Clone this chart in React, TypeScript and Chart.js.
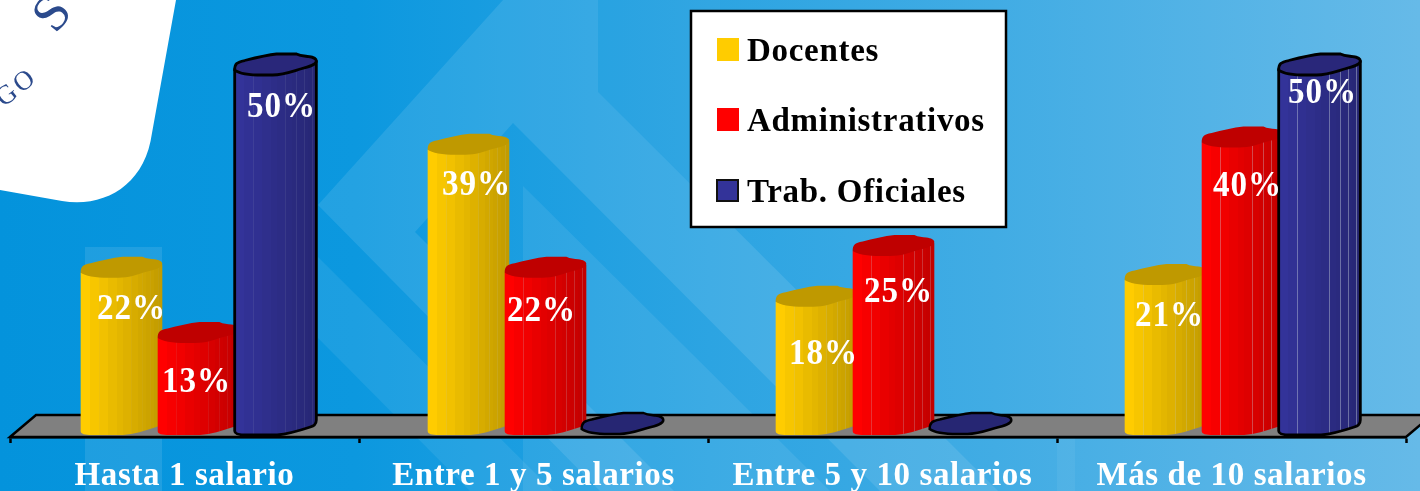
import { useEffect, useRef } from "react";
import { Chart, registerables } from "chart.js";

Chart.register(...registerables);

// ---- data ----
const categories = ["Hasta 1 salario", "Entre 1 y 5 salarios", "Entre 5 y 10 salarios", "Más de 10 salarios"];
const docentes = [22, 39, 18, 21];
const administrativos = [13, 22, 25, 40];
const trabOficiales = [50, 0, 0, 50];
const seriesNames = ["Docentes", "Administrativos", "Trab. Oficiales"];

// ---- style ----
const SERIF = '"Liberation Serif", "Times New Roman", serif';
const lightColors = ["#ffcc00", "#ff0000", "#333399"];
const darkColors = ["#bf9900", "#bf0000", "#262673"];
const capColors = ["#bf9900", "#bf0000", "#29277a"];
const outlined = [false, false, true];
const facetStops = [0, 0.12, 0.22, 0.34, 0.44, 0.52, 0.62, 0.7, 0.75, 0.8, 0.85, 0.9, 0.95, 1];
const facetLines = [0.22, 0.62, 0.75, 0.85, 0.95];
const facetAlpha = [0.08, 0.2, 0.24, 0.34];
const seriesLineFactor = [0.6, 1, 1.2];
const labelDx = [[10, 8, 7, 4], [-2, -4, 5, 5], [6, 0, 0, 3]];
const labelDy = [[34, 33, 50, 34], [42, 36, 39, 41], [35, 0, 0, 21]];
const categoryShift = [14, 12, 11, 11];
const DEPTH_X = 26;
const DEPTH_Y = 22;

function hexRgb(h: string) {
  return [1, 3, 5].map((i) => parseInt(h.slice(i, i + 2), 16));
}
function mix(a: string, b: string, t: number) {
  const A = hexRgb(a);
  const B = hexRgb(b);
  return `rgb(${A.map((v, i) => Math.round(v + (B[i] - v) * t)).join(",")})`;
}

function capPath(ctx: CanvasRenderingContext2D, L: number, y: number, w: number) {
  const k = w / 82;
  const X = (v: number) => L + v * k;
  ctx.beginPath();
  ctx.moveTo(X(0), y);
  ctx.bezierCurveTo(X(0), y - 6, X(2), y - 8, X(10), y - 9.5);
  ctx.bezierCurveTo(X(20), y - 12, X(32), y - 15, X(42), y - 16);
  ctx.lineTo(X(62), y - 16);
  ctx.bezierCurveTo(X(66), y - 14, X(70), y - 14, X(74), y - 13.5);
  ctx.bezierCurveTo(X(79), y - 13, X(82), y - 11, X(82), y - 9);
  ctx.bezierCurveTo(X(82), y - 5, X(74), y - 3, X(66), y - 1);
  ctx.bezierCurveTo(X(56), y + 2, X(48), y + 5, X(38), y + 5);
  ctx.lineTo(X(28), y + 5);
  ctx.bezierCurveTo(X(15), y + 5, X(4), y + 3, X(0), y);
  ctx.closePath();
}

function bodyPath(ctx: CanvasRenderingContext2D, L: number, y: number, base: number, w: number) {
  const R = L + w;
  ctx.beginPath();
  ctx.moveTo(L, y);
  ctx.lineTo(L + w * 0.5, y + 2);
  ctx.lineTo(R, y - 8);
  ctx.lineTo(R, base - 12);
  ctx.bezierCurveTo(R, base - 7, R - 3, base - 6, R - 6, base - 5);
  ctx.bezierCurveTo(R - 18, base - 1, R - 28, base + 2, L + w * 0.52, base + 3);
  ctx.lineTo(L + w * 0.14, base + 3);
  ctx.bezierCurveTo(L + 4, base + 3, L, base + 2, L, base - 1);
  ctx.closePath();
}

const scenery = {
  id: "scenery",
  beforeDraw(chart: any) {
    const { ctx, chartArea, width, height } = chart;
    ctx.save();
    const g = ctx.createLinearGradient(0, 0, width, 0);
    g.addColorStop(0, "#0493dc");
    g.addColorStop(0.25, "#0c98df");
    g.addColorStop(0.5, "#2ca4e2");
    g.addColorStop(0.7, "#41ace4");
    g.addColorStop(1, "#66bae8");
    ctx.fillStyle = g;
    ctx.fillRect(0, 0, width, height);

    const poly = (pts: number[][], a: number) => {
      ctx.fillStyle = `rgba(255,255,255,${a})`;
      ctx.beginPath();
      pts.forEach((p, i) => (i ? ctx.lineTo(p[0], p[1]) : ctx.moveTo(p[0], p[1])));
      ctx.closePath();
      ctx.fill();
    };
    // chevron watermark
    poly([[318, 205], [503, 0], [598, 0], [598, 92], [998, 491], [880, 491], [513, 123], [415, 232], [674, 491], [600, 491]], 0.1);
    poly([[523, 186], [830, 491], [523, 491]], 0.08);
    poly([[318, 257], [553, 491], [470, 491], [318, 338]], 0.07);
    poly([[85, 247], [162, 247], [162, 491], [85, 491]], 0.1);
    poly([[598, 0], [720, 0], [720, 214], [598, 92]], 0.03);
    poly([[1057, 437], [1075, 437], [1075, 491], [1057, 491]], 0.05);

    // white card in the corner
    ctx.fillStyle = "#ffffff";
    ctx.beginPath();
    ctx.moveTo(0, 0);
    ctx.lineTo(176, 0);
    ctx.lineTo(152, 133);
    ctx.bezierCurveTo(145, 185, 105, 208, 62, 201);
    ctx.lineTo(0, 190);
    ctx.closePath();
    ctx.fill();
    ctx.fillStyle = "#2b4a8c";
    ctx.textAlign = "center";
    ctx.textBaseline = "middle";
    ctx.save();
    ctx.translate(54, 15);
    ctx.rotate((-52 * Math.PI) / 180);
    ctx.font = `52px ${SERIF}`;
    ctx.fillText("S", 0, 0);
    ctx.restore();
    ctx.save();
    ctx.translate(17, 88);
    ctx.rotate((-38 * Math.PI) / 180);
    ctx.font = `27px ${SERIF}`;
    (ctx as any).letterSpacing = "3px";
    ctx.fillText("GO", 0, 0);
    ctx.restore();

    // floor of the 3D plot
    const { left, right, bottom } = chartArea;
    ctx.fillStyle = "#808080";
    ctx.strokeStyle = "#000000";
    ctx.lineWidth = 2.5;
    ctx.lineJoin = "miter";
    ctx.beginPath();
    ctx.moveTo(left, bottom);
    ctx.lineTo(left + DEPTH_X, bottom - DEPTH_Y);
    ctx.lineTo(right + DEPTH_X, bottom - DEPTH_Y);
    ctx.lineTo(right, bottom);
    ctx.closePath();
    ctx.fill();
    ctx.stroke();
    ctx.restore();
    // tick labels of the category axis are spaced out
    (ctx as any).letterSpacing = "0.6px";
  },
};

const cylinders = {
  id: "cylinders",
  beforeDatasetDraw() {
    return false;
  },
  afterDatasetsDraw(chart: any) {
    const { ctx } = chart;
    ctx.save();
    (ctx as any).letterSpacing = "0px";
    seriesNames.forEach((_, ds) => {
      const meta = chart.getDatasetMeta(ds);
      meta.data.forEach((bar: any, i: number) => {
        const w = bar.width;
        const L = bar.x + categoryShift[i] - w / 2;
        const value = chart.data.datasets[ds].data[i];
        const base = bar.base;
        if (value > 0) {
          const g = ctx.createLinearGradient(L, 0, L + w, 0);
          for (let s = 0; s < facetStops.length - 1; s++) {
            const c = mix(lightColors[ds], darkColors[ds], facetStops[s]);
            g.addColorStop(facetStops[s], c);
            g.addColorStop(facetStops[s + 1], c);
          }
          bodyPath(ctx, L, bar.y, base, w);
          ctx.fillStyle = g;
          ctx.fill();
          ctx.save();
          ctx.clip();
          ctx.strokeStyle = `rgba(205,215,225,${facetAlpha[i] * seriesLineFactor[ds]})`;
          ctx.lineWidth = 1;
          facetLines.forEach((f) => {
            const x = Math.round(L + f * w) + 0.5;
            ctx.beginPath();
            ctx.moveTo(x, bar.y - 10);
            ctx.lineTo(x, base + 4);
            ctx.stroke();
          });
          ctx.restore();
          if (outlined[ds]) {
            ctx.strokeStyle = "#000";
            ctx.lineWidth = 2.8;
            bodyPath(ctx, L, bar.y, base, w);
            ctx.stroke();
          }
          capPath(ctx, L, bar.y, w);
          ctx.fillStyle = capColors[ds];
          ctx.fill();
          if (outlined[ds]) ctx.stroke();
        } else {
          capPath(ctx, L, base - 3, w);
          ctx.fillStyle = darkColors[ds];
          ctx.fill();
          ctx.strokeStyle = "#000";
          ctx.lineWidth = 2.5;
          ctx.stroke();
        }
      });
    });
    ctx.font = `bold 36px ${SERIF}`;
    (ctx as any).letterSpacing = "1px";
    ctx.fillStyle = "#ffffff";
    ctx.textAlign = "center";
    ctx.textBaseline = "middle";
    seriesNames.forEach((_, ds) => {
      chart.getDatasetMeta(ds).data.forEach((bar: any, i: number) => {
        const value = chart.data.datasets[ds].data[i];
        if (value > 0) {
          ctx.save();
          ctx.translate(bar.x + categoryShift[i] + labelDx[ds][i], bar.y + labelDy[ds][i] + 3);
          ctx.scale(0.92, 1);
          ctx.fillText(`${value}%`, 0, 0);
          ctx.restore();
        }
      });
    });
    ctx.restore();
  },
};

const legendBox = {
  id: "legendBox",
  afterDraw(chart: any) {
    const { ctx } = chart;
    ctx.save();
    ctx.fillStyle = "#ffffff";
    ctx.strokeStyle = "#000000";
    ctx.lineWidth = 2.5;
    ctx.fillRect(691, 11, 315, 216);
    ctx.strokeRect(691, 11, 315, 216);
    const rows = [50, 120, 191];
    ctx.font = `bold 33px ${SERIF}`;
    (ctx as any).letterSpacing = "0.7px";
    ctx.textAlign = "left";
    ctx.textBaseline = "middle";
    seriesNames.forEach((name, i) => {
      const y = rows[i];
      ctx.fillStyle = lightColors[i];
      if (outlined[i]) {
        ctx.fillRect(717, y - 11, 21, 21);
        ctx.lineWidth = 2;
        ctx.strokeStyle = "#111";
        ctx.strokeRect(717, y - 11, 21, 21);
      } else {
        ctx.fillRect(717, y - 12, 22, 23);
      }
      ctx.fillStyle = "#000000";
      ctx.fillText(name, 747, y + 2);
    });
    ctx.restore();
  },
};

const MIN_Y = -0.69;
const MAX_Y = 59.67;

export default function App() {
  const ref = useRef<HTMLCanvasElement | null>(null);
  useEffect(() => {
    document.body.style.margin = "0";
    const chart = new Chart(ref.current as HTMLCanvasElement, {
      type: "bar",
      data: {
        labels: categories,
        datasets: [docentes, administrativos, trabOficiales].map((data, i) => ({
          label: seriesNames[i],
          data,
          backgroundColor: lightColors[i],
          categoryPercentage: 0.662,
          barPercentage: 1.06,
        })),
      },
      options: {
        responsive: false,
        animation: false,
        layout: { padding: { left: 10, right: 14, top: 0, bottom: 0 } },
        plugins: { legend: { display: false }, tooltip: { enabled: false }, title: { display: false } },
        scales: {
          x: {
            afterFit(scale: any) {
              scale.height = 54;
            },
            border: { display: true, color: "#000000", width: 2.5 },
            grid: {
              display: true,
              offset: true,
              drawOnChartArea: false,
              drawTicks: true,
              tickLength: 6,
              tickColor: "#000000",
              tickWidth: 2.5,
              color: "#000000",
            },
            ticks: {
              autoSkip: false,
              maxRotation: 0,
              minRotation: 0,
              padding: 14,
              color: "#ffffff",
              font: { family: SERIF, size: 33, weight: "bold" },
            },
          },
          y: { display: false, min: MIN_Y, max: MAX_Y },
        },
      },
      plugins: [scenery, cylinders, legendBox],
    } as any);
    return () => chart.destroy();
  }, []);
  return (
    <div style={{ position: "fixed", left: 0, top: 0, width: 1420, height: 491 }}>
      <canvas ref={ref} width={1420} height={491} style={{ display: "block" }} />
    </div>
  );
}
